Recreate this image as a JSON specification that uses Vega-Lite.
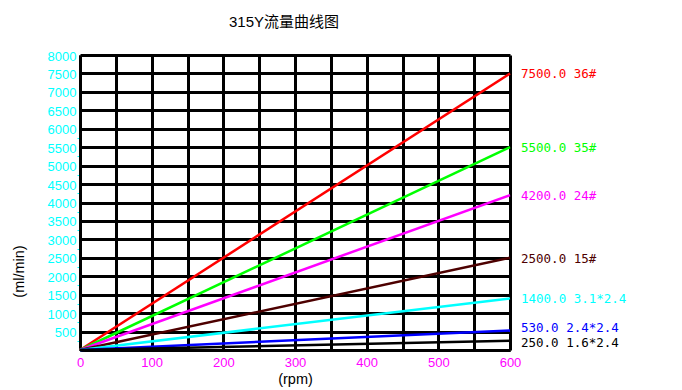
{
  "$schema": "https://vega.github.io/schema/vega-lite/v6.json",
  "width": 430,
  "height": 295,
  "autosize": "none",
  "padding": {"left": 80, "top": 55, "right": 172, "bottom": 40},
  "background": "white",
  "config": {"view": {"stroke": null}, "font": "Liberation Sans"},
  "title": {
    "text": "315Y流量曲线图",
    "font": "Liberation Sans, Noto Sans CJK SC",
    "fontSize": 15,
    "fontWeight": "normal",
    "color": "black",
    "anchor": "middle",
    "dx": -11,
    "offset": 8,
    "baseline": "alphabetic"
  },
  "datasets": {
    "lines": [
      {"rpm": 0, "flow": 0, "series": "36#"},
      {"rpm": 600, "flow": 7500, "series": "36#"},
      {"rpm": 0, "flow": 0, "series": "35#"},
      {"rpm": 600, "flow": 5500, "series": "35#"},
      {"rpm": 0, "flow": 0, "series": "24#"},
      {"rpm": 600, "flow": 4200, "series": "24#"},
      {"rpm": 0, "flow": 0, "series": "15#"},
      {"rpm": 600, "flow": 2500, "series": "15#"},
      {"rpm": 0, "flow": 0, "series": "3.1*2.4"},
      {"rpm": 600, "flow": 1400, "series": "3.1*2.4"},
      {"rpm": 0, "flow": 0, "series": "2.4*2.4"},
      {"rpm": 600, "flow": 530, "series": "2.4*2.4"},
      {"rpm": 0, "flow": 0, "series": "1.6*2.4"},
      {"rpm": 600, "flow": 250, "series": "1.6*2.4"}
    ],
    "labels": [
      {"rpm": 600, "flow": 7500, "series": "36#", "label": "7500.0 36#"},
      {"rpm": 600, "flow": 5500, "series": "35#", "label": "5500.0 35#"},
      {"rpm": 600, "flow": 4200, "series": "24#", "label": "4200.0 24#"},
      {"rpm": 600, "flow": 2500, "series": "15#", "label": "2500.0 15#"},
      {"rpm": 600, "flow": 1400, "series": "3.1*2.4", "label": "1400.0 3.1*2.4"},
      {"rpm": 600, "flow": 530, "series": "2.4*2.4", "label": "\u00a0530.0 2.4*2.4"},
      {"rpm": 600, "flow": 250, "series": "1.6*2.4", "label": "\u00a0250.0 1.6*2.4"}
    ]
  },
  "encoding": {
    "x": {
      "field": "rpm",
      "type": "quantitative",
      "scale": {"domain": [0, 600], "nice": false},
      "axis": {
        "values": [0, 50, 100, 150, 200, 250, 300, 350, 400, 450, 500, 550, 600],
        "format": "d",
        "labelExpr": "datum.value % 100 === 0 ? datum.label : ''",
        "grid": true,
        "gridColor": "black",
        "gridWidth": 3,
        "gridOpacity": 1,
        "ticks": false,
        "domainColor": "black",
        "domainWidth": 3,
        "labelColor": "#ff00ff",
        "labelFont": "Liberation Sans",
        "labelFontSize": 13,
        "labelPadding": 6,
        "labelFlush": false,
        "labelOverlap": false,
        "title": "(rpm)",
        "titleFont": "Liberation Sans",
        "titleFontSize": 14.5,
        "titleFontWeight": "normal",
        "titleColor": "black",
        "titlePadding": 3
      }
    },
    "y": {
      "field": "flow",
      "type": "quantitative",
      "scale": {"domain": [0, 8000], "nice": false},
      "axis": {
        "values": [0, 250, 500, 750, 1000, 1250, 1500, 1750, 2000, 2250, 2500, 2750, 3000, 3250, 3500, 3750, 4000, 4250, 4500, 4750, 5000, 5250, 5500, 5750, 6000, 6250, 6500, 6750, 7000, 7250, 7500, 7750, 8000],
        "format": "d",
        "labelExpr": "datum.value % 500 === 0 && datum.value > 0 ? datum.label : ''",
        "grid": true,
        "gridColor": "black",
        "gridWidth": 3,
        "gridOpacity": {"condition": {"test": "datum.value % 500 === 0", "value": 1}, "value": 0},
        "ticks": true,
        "tickColor": "#00ffff",
        "tickSize": 3,
        "tickWidth": 1,
        "tickOpacity": {"condition": {"test": "datum.value % 500 !== 0 && datum.value < 6000", "value": 1}, "value": 0},
        "domainColor": "black",
        "domainWidth": 3,
        "labelColor": "#00ffff",
        "labelFont": "Liberation Sans",
        "labelFontSize": 13,
        "labelPadding": 1,
        "labelOffset": 1,
        "labelFlush": false,
        "labelOverlap": false,
        "title": "(ml/min)",
        "titleFont": "Liberation Sans",
        "titleFontSize": 14.5,
        "titleFontWeight": "normal",
        "titleColor": "black",
        "titleX": -54,
        "titleY": 216
      }
    },
    "color": {
      "field": "series",
      "type": "nominal",
      "scale": {
        "domain": ["36#", "35#", "24#", "15#", "3.1*2.4", "2.4*2.4", "1.6*2.4"],
        "range": ["#ff0000", "#00ff00", "#ff00ff", "#4d0000", "#00ffff", "#0000ff", "#000000"]
      },
      "legend": null
    }
  },
  "layer": [
    {
      "data": {"name": "lines"},
      "mark": {"type": "line", "strokeWidth": 2.5}
    },
    {
      "data": {"name": "labels"},
      "transform": [{"filter": "datum.flow > 1000"}],
      "mark": {"type": "text", "align": "left", "baseline": "middle", "dx": 11, "dy": 1, "font": "DejaVu Sans Mono", "fontSize": 12.5},
      "encoding": {"text": {"field": "label"}}
    },
    {
      "data": {"name": "labels"},
      "transform": [{"filter": "datum.flow > 400 && datum.flow < 1000"}],
      "mark": {"type": "text", "align": "left", "baseline": "middle", "dx": 11, "dy": -2, "font": "DejaVu Sans Mono", "fontSize": 12.5},
      "encoding": {"text": {"field": "label"}}
    },
    {
      "data": {"name": "labels"},
      "transform": [{"filter": "datum.flow < 400"}],
      "mark": {"type": "text", "align": "left", "baseline": "middle", "dx": 11, "dy": 2, "font": "DejaVu Sans Mono", "fontSize": 12.5},
      "encoding": {"text": {"field": "label"}}
    }
  ]
}
